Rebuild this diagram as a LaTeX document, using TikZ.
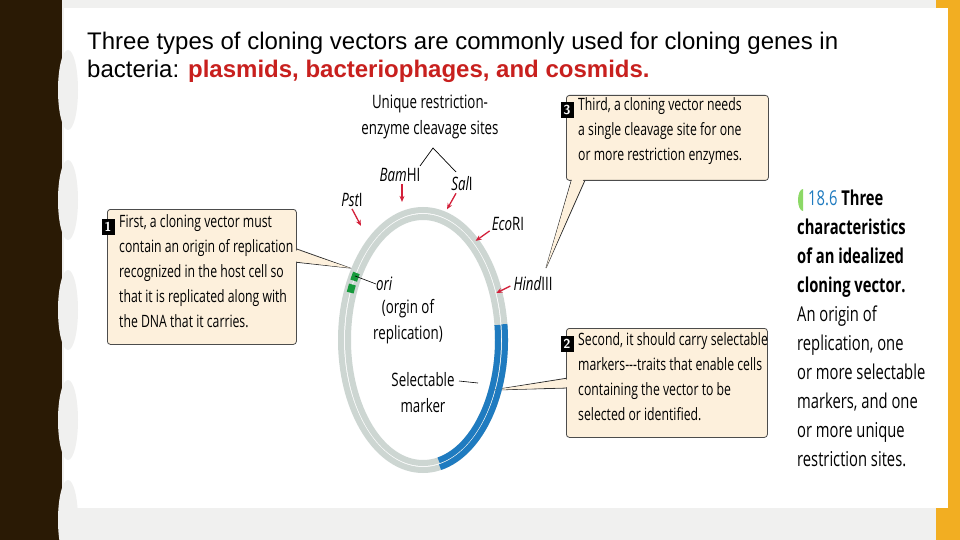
\documentclass[tikz,border=0pt]{standalone}
\usepackage{fontspec}
\setmainfont{Liberation Sans}
\newfontfamily\cond[FakeStretch=0.72]{Open Sans}
\usetikzlibrary{arrows.meta}
\definecolor{bgray}{HTML}{F0F0EF}
\definecolor{brownd}{HTML}{2A1A05}
\definecolor{orng}{HTML}{F2AE22}
\definecolor{boxfill}{HTML}{FDF0DC}
\definecolor{ring}{HTML}{CDD6D2}
\definecolor{blu}{HTML}{1F7BC0}
\definecolor{grn}{HTML}{169A3C}
\definecolor{redt}{HTML}{C8201E}
\definecolor{arr}{HTML}{D3203A}
\begin{document}
\begin{tikzpicture}[x=1pt,y=-1pt,
  callout/.style={draw=black!70,fill=boxfill,rounded corners=3pt,line width=0.8pt},
  lab/.style={font=\cond\fontsize{17}{25}\selectfont,inner sep=0pt,align=left,anchor=north west},
  clab/.style={font=\cond\fontsize{18.5}{26}\selectfont,inner sep=0pt,align=center},
  rarr/.style={-{Stealth[length=6pt,width=5pt]},draw=arr,line width=1.3pt},
  num/.style={fill=black,text=white,font=\sffamily\bfseries\fontsize{13}{13}\selectfont,inner sep=1.5pt,minimum width=13pt,minimum height=16pt}]
\useasboundingbox (0,0) rectangle (960,540);
\fill[bgray] (0,0) rectangle (960,540);
\fill[white] (64,8) rectangle (948,508);
\fill[orng] (936,0) rectangle (960,540);
\fill[white] (936,8) rectangle (948,508);
\fill[brownd] (0,0) rectangle (62,540);
\foreach \yy in {90,200,310,420,520} {\fill[bgray] (68,\yy) ellipse (10 and 40);}
\fill[bgray] (62,0) rectangle (64,540);
% title
\node[anchor=north west,inner sep=0pt,align=left,font=\fontsize{24}{28}\selectfont] (title) at (87,32)
 {Three types of cloning vectors are commonly used for cloning genes in\\
  bacteria: \textcolor{redt}{\bfseries plasmids, bacteriophages, and cosmids.}};
% callout wedges
\coordinate (t1) at (350,268); \coordinate (t3) at (546,268); \coordinate (t2) at (493,390);
\fill[boxfill,draw=black!80,line width=0.8pt] (294,248) -- (t1) -- (294,262);
\fill[boxfill,draw=black!80,line width=0.8pt] (572,178) -- (t3) -- (586,178);
\fill[boxfill,draw=black!80,line width=0.8pt] (568,378) -- (t2) -- (568,388);
% boxes
\node[callout,minimum width=189pt,minimum height=135pt,anchor=north west] (b1) at (107,209) {};
\node[callout,minimum width=202pt,minimum height=85pt,anchor=north west] (b3) at (566,95) {};
\node[callout,minimum width=201pt,minimum height=109pt,anchor=north west] (b2) at (566,328) {};
\fill[boxfill] (292,249) -- (t1) -- (292,261) -- cycle;
\fill[boxfill] (573,176) -- (t3) -- (585,176) -- cycle;
\fill[boxfill] (570,379) -- (t2) -- (570,387) -- cycle;
\node[num] (n1) at (108,227) {1};
\node[num] (n3) at (567,110) {3};
\node[num] (n2) at (567,344) {2};
\node[lab] (x1) at (119,214) {First, a cloning vector must\\contain an origin of replication\\recognized in the host cell so\\that it is replicated along with\\the DNA that it carries.};
\node[lab] (x3) at (578,97) {Third, a cloning vector needs\\a single cleavage site for one\\or more restriction enzymes.};
\node[lab] (x2) at (578,332) {Second, it should carry selectable\\markers---traits that enable cells\\containing the vector to be\\selected or identified.};
% plasmid
\draw[ring,line width=6pt] (423,340) ellipse (82 and 130);
\draw[ring,line width=6pt] (423,340) ellipse (75 and 123);
\draw[blu,line width=6pt] (423,340) ++(-7:82 and 130) arc[start angle=-7,end angle=78,x radius=82,y radius=130];
\draw[blu,line width=6pt] (423,340) ++(-7:75 and 123) arc[start angle=-7,end angle=78,x radius=75,y radius=123];
\draw[grn,line width=7pt] (423,340) ++(-148:78.5 and 126.5) arc[start angle=-148,end angle=-152,x radius=78.5,y radius=126.5];
\draw[grn,line width=7pt] (423,340) ++(-154:78.5 and 126.5) arc[start angle=-154,end angle=-158,x radius=78.5,y radius=126.5];
% labels
\node[clab] (ur) at (430,117) {Unique restriction-\\enzyme cleavage sites};
\coordinate (br) at (433,148);
\draw[black,line width=0.7pt] (420,166) -- (br) -- (456,172);
\node[clab] (bam) at (400,175) {\itshape Bam\upshape HI};
\node[clab] (sal) at (462,184) {\itshape Sal\upshape I};
\node[clab] (pst) at (352,200) {\itshape Pst\upshape I};
\node[clab] (eco) at (508,224) {\itshape Eco\upshape RI};
\node[clab] (hind) at (533,284) {\itshape Hind\upshape III};
\draw[rarr] (bam.south) ++(2,2) -- ++(0,18);
\draw[rarr] (sal.south) ++(-6,2) -- ++(-9,16);
\draw[rarr] (pst.south) ++(0,2) -- ++(9,17);
\draw[rarr] (eco.south west) ++(-2,0) -- ++(-14,10);
\draw[rarr] (hind.west) ++(-3,2) -- ++(-14,7);
\node[clab,anchor=west] (ori) at (376,284) {\itshape ori};
\draw[line width=0.6pt] (355,276) -- (ori.west);
\node[clab,anchor=north west] (org) at (373,299) {(orgin of\\replication)};
\node[clab] (sel) at (423,393) {Selectable\\marker};
\coordinate (selp) at (478,383);
\draw[line width=0.6pt] (459,381) -- (selp);
% caption
\node[anchor=north west,inner sep=0pt,align=left,font=\cond\fontsize{20.5}{29}\selectfont] (cap) at (797,190)
 {\hspace*{11pt}\textcolor{blu}{18.6} \textbf{Three}\\\textbf{characteristics}\\\textbf{of an idealized}\\\textbf{cloning vector.}\\An origin of\\replication, one\\or more selectable\\markers, and one\\or more unique\\restriction sites.};
\fill[green!50!olive!60] (803,211) arc[start angle=90,end angle=270,x radius=5,y radius=11] -- cycle;
\end{tikzpicture}
\end{document}
